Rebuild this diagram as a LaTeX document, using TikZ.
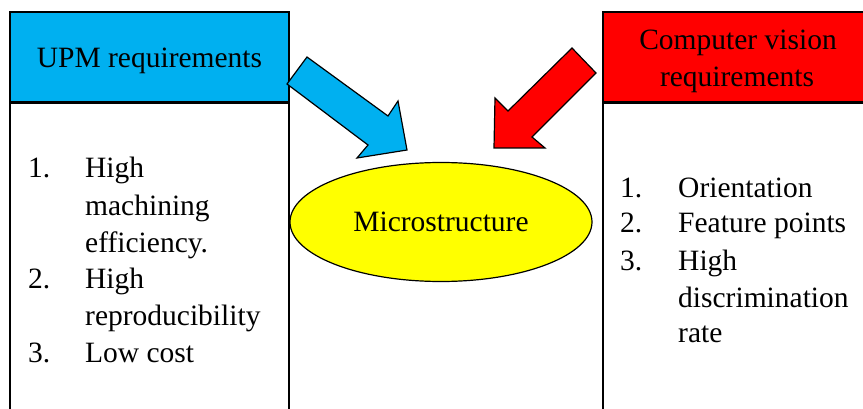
\documentclass[tikz,border=0pt]{standalone}
\usepackage{fontspec}
\setmainfont{Liberation Serif}
\usetikzlibrary{shapes.geometric}
\definecolor{upmblue}{HTML}{00B0F0}
\definecolor{cvred}{HTML}{FF0000}
\definecolor{microyellow}{HTML}{FFFF00}
\tikzset{
  txt/.style={inner sep=0pt, font=\fontsize{29.5}{36.7}\selectfont, align=left},
  hdr/.style={draw, line width=1.4pt, inner sep=0pt, minimum height=90pt},
  body/.style={draw, line width=1.4pt, anchor=north, minimum height=330pt}
}
\begin{document}
\begin{tikzpicture}[x=1pt, y=-1pt]
\useasboundingbox (0,0) rectangle (863,409);
\clip (0,0) rectangle (863,409);
% UPM side
\node[hdr, fill=upmblue, minimum width=279pt] (upm) at (149.5,57) {};
\node[body, minimum width=279pt] (upmbody) at (upm.south) {};
\node[txt, anchor=base] (upmtitle) at (149.5,68) {UPM requirements};
\node[txt, anchor=base west] (u1n) at (28,178) {1.};
\node[txt, anchor=base west] (u1) at (85,178) {High};
\node[txt, anchor=base west] (u1b) at (85,215) {machining};
\node[txt, anchor=base west] (u1c) at (85,252) {efficiency.};
\node[txt, anchor=base west] (u2n) at (28,288) {2.};
\node[txt, anchor=base west] (u2) at (85,288) {High};
\node[txt, anchor=base west] (u2b) at (85,325) {reproducibility};
\node[txt, anchor=base west] (u3n) at (28,362) {3.};
\node[txt, anchor=base west] (u3) at (85,362) {Low cost};
% computer vision side
\node[hdr, fill=cvred, minimum width=268pt] (cv) at (737,57) {};
\node[body, minimum width=268pt] (cvbody) at (cv.south) {};
\node[txt, anchor=base] (cvtitle) at (738,50) {Computer vision};
\node[txt, anchor=base] (cvtitleb) at (737,87) {requirements};
\node[txt, anchor=base west] (c1n) at (620,197) {1.};
\node[txt, anchor=base west] (c1) at (678,197) {Orientation};
\node[txt, anchor=base west] (c2n) at (620,233) {2.};
\node[txt, anchor=base west] (c2) at (678,233) {Feature points};
\node[txt, anchor=base west] (c3n) at (620,270) {3.};
\node[txt, anchor=base west] (c3) at (678,270) {High};
\node[txt, anchor=base west] (c3b) at (678,307) {discrimination};
\node[txt, anchor=base west] (c3c) at (678,342) {rate};
% Microstructure
\node[ellipse, draw, line width=1.2pt, fill=microyellow, inner sep=0pt,
  minimum width=302pt, minimum height=119pt] (micro) at (441,222) {};
\node[txt, anchor=base] (microtext) at (micro.center |- 0,232) {Microstructure};
% block arrows
\filldraw[fill=upmblue, line width=1.2pt, line join=miter]
  (307,57) -- (388,116) -- (398,101) -- (407,150) -- (357,158) -- (368,145) -- (287,84) -- cycle;
\filldraw[fill=cvred, line width=1.2pt, line join=miter]
  (572,48) -- (596,73) -- (532,137) -- (545,148) -- (494,148) -- (495,98) -- (508,111) -- cycle;
\end{tikzpicture}
\end{document}
